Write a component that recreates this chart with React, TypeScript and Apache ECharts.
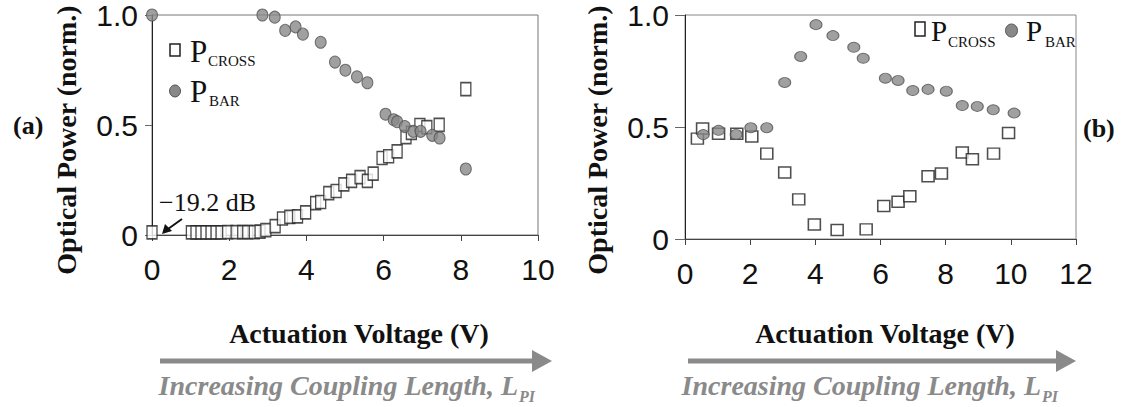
import React, { useEffect, useRef } from "react";
import * as echarts from "echarts";

// Panel (a): [voltage, normalized power]
const crossA: [number, number][] = [
  [0.0, 0.012], [1.02, 0.012], [1.14, 0.012], [1.27, 0.012], [1.4, 0.012], [1.53, 0.012],
  [1.66, 0.012], [1.79, 0.012], [1.96, 0.013], [2.18, 0.013], [2.35, 0.013], [2.48, 0.013],
  [2.65, 0.013], [2.8, 0.015], [2.95, 0.022], [3.19, 0.04], [3.38, 0.075], [3.57, 0.082],
  [3.77, 0.085], [3.98, 0.103], [4.24, 0.145], [4.37, 0.15], [4.58, 0.19], [4.77, 0.2],
  [4.97, 0.23], [5.17, 0.246], [5.39, 0.263], [5.58, 0.246], [5.73, 0.279], [5.96, 0.35],
  [6.13, 0.358], [6.35, 0.38], [6.58, 0.445], [6.72, 0.464], [6.94, 0.5], [7.12, 0.49],
  [7.44, 0.501], [8.13, 0.663],
];
const barA: [number, number][] = [
  [0.0, 1.0], [2.86, 1.0], [3.18, 0.99], [3.45, 0.93], [3.72, 0.946], [3.91, 0.913],
  [4.37, 0.876], [4.74, 0.786], [5.01, 0.749], [5.31, 0.719], [5.58, 0.692], [6.05, 0.549],
  [6.26, 0.524], [6.35, 0.515], [6.55, 0.493], [6.77, 0.471], [6.96, 0.471], [7.26, 0.453],
  [7.45, 0.441], [8.13, 0.3],
];
// Panel (b)
const crossB: [number, number][] = [
  [0.38, 0.448], [0.54, 0.493], [1.03, 0.47], [1.59, 0.47], [2.05, 0.458], [2.51, 0.381],
  [3.06, 0.297], [3.49, 0.177], [3.97, 0.065], [4.67, 0.04], [5.56, 0.043], [6.1, 0.147],
  [6.54, 0.166], [6.9, 0.191], [7.46, 0.28], [7.87, 0.292], [8.51, 0.386], [8.82, 0.356],
  [9.47, 0.381], [9.93, 0.473],
];
const barB: [number, number][] = [
  [0.56, 0.466], [1.03, 0.485], [1.57, 0.467], [2.02, 0.497], [2.51, 0.497], [3.06, 0.699],
  [3.55, 0.815], [4.02, 0.957], [4.54, 0.908], [5.18, 0.856], [5.47, 0.807], [6.15, 0.718],
  [6.54, 0.708], [6.99, 0.663], [7.46, 0.668], [8.02, 0.66], [8.51, 0.596], [8.97, 0.592],
  [9.46, 0.577], [10.1, 0.562],
];

const xNameText = "Actuation Voltage (V)";
const yNameText = "Optical Power (norm.)";
const lengthText = "Increasing Coupling Length, L";
const annotText = "\u221219.2 dB";

const SERIF = "'Liberation Serif', serif";
const SANS = "'Liberation Sans', sans-serif";
const GRAY = "#8a8a8a";

function txt(x: number, y: number, text: string, size: number, opts: any = {}) {
  return {
    type: "text",
    x,
    y,
    rotation: opts.rotation || 0,
    style: {
      text,
      fontFamily: opts.family || SERIF,
      fontSize: size,
      fontWeight: opts.weight || "normal",
      fontStyle: opts.style || "normal",
      fill: opts.fill || "#111",
      align: opts.align || "left",
      verticalAlign: "middle",
    },
    z: 10,
  };
}

export default function App() {
  const ref = useRef<HTMLDivElement>(null);
  useEffect(() => {
    const chart = echarts.init(ref.current!, undefined, { renderer: "svg" });
    const xAxisBase = (gi: number, max: number) => ({
      type: "value",
      gridIndex: gi,
      min: 0,
      max,
      interval: 2,
      axisLine: { show: true, lineStyle: { color: "#444", width: 1 } },
      axisTick: { show: true, length: 6, lineStyle: { color: "#444" } },
      axisLabel: { fontFamily: SANS, fontSize: 30, color: "#111", margin: 19 },
      splitLine: { show: false },
    });
    const yAxisBase = (gi: number, tickLen: number, margin: number) => ({
      type: "value",
      gridIndex: gi,
      min: 0,
      max: 1,
      interval: 0.5,
      axisLine: { show: true, lineStyle: { color: "#222", width: 1 } },
      axisTick: { show: true, length: tickLen, lineStyle: { color: "#666" } },
      axisLabel: {
        fontFamily: SANS,
        fontSize: 30,
        color: "#111",
        margin,
        formatter: (v: number) => (v === 0 ? "0" : v.toFixed(1)),
      },
      splitLine: { show: false },
    });
    const sq = (w: number, h: number) => ({
      symbol: "rect",
      symbolSize: [w, h],
      itemStyle: { color: "#fff", borderColor: "#222", borderWidth: 1.5 },
    });
    const ci = (w: number, h: number) => ({
      symbol: "circle",
      symbolSize: [w, h],
      itemStyle: { color: "#888", borderColor: "#555", borderWidth: 1 },
    });
    chart.setOption({
      animation: false,
      backgroundColor: "#fff",
      textStyle: { fontFamily: SANS },
      grid: [
        { left: 152, top: 12, width: 386, height: 223, show: true, borderColor: "#777", borderWidth: 1 },
        { left: 685, top: 14, width: 391, height: 225, show: true, borderColor: "#888", borderWidth: 1 },
      ],
      xAxis: [xAxisBase(0, 10), xAxisBase(1, 12)],
      yAxis: [yAxisBase(0, 7, 14), yAxisBase(1, 10, 16)],
      series: [
        { type: "scatter", name: "P_CROSS (a)", xAxisIndex: 0, yAxisIndex: 0, data: crossA, ...sq(10, 13) },
        { type: "scatter", name: "P_BAR (a)", xAxisIndex: 0, yAxisIndex: 0, data: barA, ...ci(11, 12) },
        { type: "scatter", name: "P_CROSS (b)", xAxisIndex: 1, yAxisIndex: 1, data: crossB, ...sq(12, 11) },
        { type: "scatter", name: "P_BAR (b)", xAxisIndex: 1, yAxisIndex: 1, data: barB, ...ci(12, 10) },
      ],
      graphic: [
        // y-axis names
        txt(66, 140, yNameText, 28, { weight: "bold", align: "center", rotation: Math.PI / 2 }),
        txt(597, 140, yNameText, 28, { weight: "bold", align: "center", rotation: Math.PI / 2 }),
        // panel labels
        txt(13, 125, "(a)", 26, { weight: "bold" }),
        txt(1083, 128, "(b)", 26, { weight: "bold" }),
        // x-axis names
        txt(359, 333, xNameText, 28, { weight: "bold", align: "center" }),
        txt(885, 333, xNameText, 28, { weight: "bold", align: "center" }),
        // arrows
        { type: "line", shape: { x1: 160, y1: 361, x2: 536, y2: 361 }, style: { stroke: GRAY, lineWidth: 5 } },
        { type: "polygon", shape: { points: [[532, 350], [552, 361], [532, 372]] }, style: { fill: GRAY } },
        { type: "line", shape: { x1: 688, y1: 361, x2: 1060, y2: 361 }, style: { stroke: GRAY, lineWidth: 5 } },
        { type: "polygon", shape: { points: [[1056, 350], [1076, 361], [1056, 372]] }, style: { fill: GRAY } },
        // italic captions
        txt(518, 385, lengthText, 28, { weight: "bold", style: "italic", align: "right", fill: GRAY }),
        txt(519, 396, "PI", 16, { weight: "bold", style: "italic", fill: GRAY }),
        txt(1041, 385, lengthText, 28, { weight: "bold", style: "italic", align: "right", fill: GRAY }),
        txt(1042, 396, "PI", 16, { weight: "bold", style: "italic", fill: GRAY }),
        // legend (a)
        { type: "rect", shape: { x: 170, y: 44, width: 10, height: 12 }, style: { fill: "#fff", stroke: "#222", lineWidth: 1.5 }, z: 10 },
        txt(190, 51, "P", 31),
        txt(208, 61, "CROSS", 15),
        { type: "ellipse", shape: { cx: 175, cy: 91, rx: 5.5, ry: 6 }, style: { fill: "#888", stroke: "#555", lineWidth: 1 }, z: 10 },
        txt(190, 91, "P", 31),
        txt(209, 101, "BAR", 15),
        // legend (b)
        { type: "rect", shape: { x: 915, y: 22, width: 10, height: 14 }, style: { fill: "#fff", stroke: "#222", lineWidth: 1.5 }, z: 10 },
        txt(931, 31, "P", 29),
        txt(948, 42, "CROSS", 15),
        { type: "ellipse", shape: { cx: 1011.5, cy: 30.5, rx: 6, ry: 6.5 }, style: { fill: "#888", stroke: "#555", lineWidth: 1 }, z: 10 },
        txt(1026, 31, "P", 29),
        txt(1045, 42, "BAR", 15),
        // annotation in (a)
        txt(159, 202, annotText, 26),
        { type: "line", shape: { x1: 182, y1: 219, x2: 168, y2: 229 }, style: { stroke: "#111", lineWidth: 2 }, z: 10 },
        { type: "polygon", shape: { points: [[162, 234], [165, 224], [172, 231]] }, style: { fill: "#111" }, z: 10 },
      ],
    });
    return () => chart.dispose();
  }, []);
  return (
    <div
      ref={ref}
      style={{ position: "absolute", left: 0, top: 0, width: 1125, height: 407, background: "#fff" }}
    />
  );
}
